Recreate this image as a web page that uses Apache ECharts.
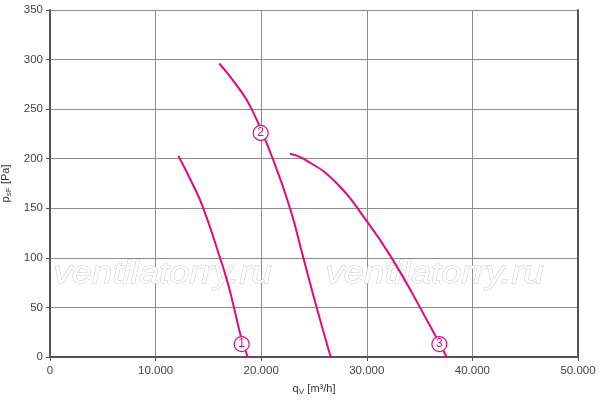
<!DOCTYPE html>
<html>
<head>
<meta charset="utf-8">
<script src="https://cdn.jsdelivr.net/npm/echarts@6/dist/echarts.min.js"></script>
<style>
html,body{margin:0;padding:0;background:#fff;}
#c{width:600px;height:401px;}
</style>
</head>
<body>
<div id="c"></div>
<script>
// Data
var curve1X = [12150, 13480, 14520, 16100, 16850, 17420, 18050, 18720];
var curve1Y = [203, 175, 150, 100, 74, 50, 22, 0];
var curve2X = [16030, 17680, 19100, 21090, 22730, 23990, 25250, 26580];
var curve2Y = [296, 274, 250, 200, 150, 100, 50, 0];
var curve3X = [22730, 23990, 26990, 30000, 32350, 35040, 37560];
var curve3Y = [205, 200, 177, 137, 100, 50, 0];
var markerNames = ['1', '2', '3'];
var markerX = [18150, 19950, 36870];
var markerY = [13, 226, 13];
var xTicks = [0, 10000, 20000, 30000, 40000, 50000];
var yTicks = [0, 50, 100, 150, 200, 250, 300, 350];
var watermark = 'ventilatorry.ru';

var PINK = '#e5097f';
function pairs(xs, ys) { return xs.map(function (x, i) { return [x, ys[i]]; }); }
function fmt(v) { return v === 0 ? '0' : String(v).replace(/\B(?=(\d{3})+(?!\d))/g, '.'); }

var chart = echarts.init(document.getElementById('c'), null, {renderer: 'canvas'});
var lineSeries = [curve1X, curve2X, curve3X].map(function (xs, i) {
  var ys = [curve1Y, curve2Y, curve3Y][i];
  return {
    type: 'line', data: pairs(xs, ys), smooth: 0.5, showSymbol: false, z: 3,
    lineStyle: {color: PINK, width: 2}, silent: true
  };
});
var markers = {
  type: 'scatter', z: 5, symbol: 'circle', symbolSize: 15,
  data: markerX.map(function (x, i) { return {value: [x, markerY[i]], name: markerNames[i]}; }),
  itemStyle: {color: '#fff', borderColor: PINK, borderWidth: 1.2, opacity: 1},
  label: {show: true, position: 'inside', formatter: '{b}', color: PINK, fontSize: 12, fontFamily: 'Liberation Sans'}
};

chart.setOption({
  animation: false,
  backgroundColor: '#fff',
  textStyle: {fontFamily: 'Liberation Sans'},
  grid: {left: 50, right: 22, top: 10, bottom: 44, containLabel: false, outerBoundsMode: 'none'},
  graphic: [
    {type: 'text', left: 53, top: 258, z: 1, scaleX: 1.14, style: {text: watermark, font: 'italic 32px "Liberation Sans"', fill: '#fff', stroke: '#cdcdcd', lineWidth: 1}},
    {type: 'text', left: 325, top: 258, z: 1, scaleX: 1.14, style: {text: watermark, font: 'italic 32px "Liberation Sans"', fill: '#fff', stroke: '#cdcdcd', lineWidth: 1}}
  ],
  xAxis: {
    type: 'value', min: xTicks[0], max: xTicks[xTicks.length - 1], interval: 10000,
    name: '{q|q}{s|V} {q|[m³/h]}', nameLocation: 'middle', nameGap: 25,
    nameTextStyle: {rich: {q: {fontSize: 11, color: '#333'}, s: {fontSize: 8, color: '#333', verticalAlign: 'bottom', padding: [6, 0, 0, 0]}}},
    axisLine: {show: true, lineStyle: {color: '#555', width: 2}},
    axisTick: {show: true, length: 4, lineStyle: {color: '#555'}},
    axisLabel: {margin: 8, fontSize: 11.5, color: '#444', formatter: fmt},
    splitLine: {show: true, lineStyle: {color: '#8c8c8c', width: 1}}
  },
  yAxis: [{
    type: 'value', min: yTicks[0], max: yTicks[yTicks.length - 1], interval: 50,
    name: '{q|p}{s|sF} {q|[Pa]}', nameLocation: 'middle', nameGap: 30,
    nameTextStyle: {rich: {q: {fontSize: 11, color: '#333'}, s: {fontSize: 8, color: '#333', verticalAlign: 'bottom', padding: [6, 0, 0, 0]}}},
    axisLine: {show: true, lineStyle: {color: '#555', width: 2}},
    axisTick: {show: true, length: 4, lineStyle: {color: '#555'}},
    axisLabel: {margin: 7, fontSize: 11.5, color: '#444'},
    splitLine: {show: true, lineStyle: {color: '#8c8c8c', width: 1}}
  }, {
    type: 'value', position: 'right', min: 0, max: 350, interval: 50,
    axisLine: {show: true, lineStyle: {color: '#555', width: 2}},
    axisTick: {show: false}, axisLabel: {show: false}, splitLine: {show: false}
  }],
  series: lineSeries.concat([markers])
});
</script>
</body>
</html>
